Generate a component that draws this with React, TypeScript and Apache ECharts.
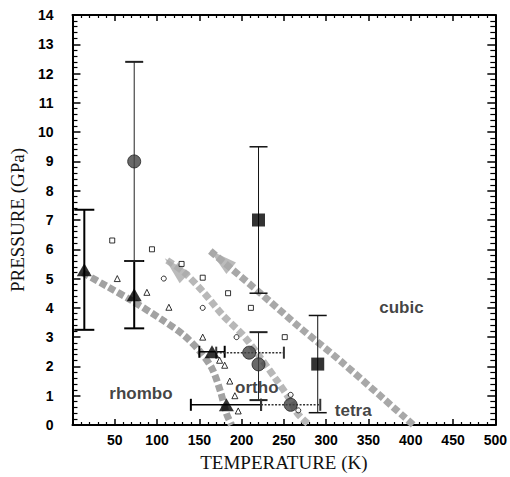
import React, { useEffect, useRef } from "react";
import * as echarts from "echarts";

// Axis ranges
const X_MIN = 0, X_MAX = 500, X_STEP = 50;
const Y_MIN = 0, Y_MAX = 14, Y_STEP = 1;
const xAxisName = "TEMPERATURE (K)";
const yAxisName = "PRESSURE (GPa)";

// Large markers
const bigTriangles = [[14, 5.3], [73, 4.45], [165, 2.5], [182, 0.69]];
const bigCircles = [[73, 9.0], [220, 2.07], [209, 2.47], [258, 0.69]];
const bigSquares = [[220, 7.0], [290, 2.08]];

// Error bars: vertical [x, low, high], horizontal [y, low, high]
const triVErr = [[14, 3.25, 7.35], [73, 3.3, 5.6]];
const triHErr = [[2.5, 150, 180], [0.69, 140, 223]];
const circVErr = [[73, 5.6, 12.4], [220, 0.85, 3.17]];
const circHErr = [[2.47, 170, 250], [0.69, 223, 293]];
const sqVErr = [[220, 4.5, 9.5], [290, 0.42, 3.74]];

// Small open markers
const openSquares = [[47, 6.3], [94, 6.0], [129, 5.5], [154, 5.03], [184, 4.5], [211, 4.0], [251, 3.0]];
const openCircles = [[108, 5.0], [154, 4.0], [194, 3.0], [258, 1.03], [267, 0.5]];
const openTriangles = [[53, 5.0], [88, 4.53], [114, 4.02], [154, 3.0], [174, 2.21], [180, 2.04], [186, 1.5], [192, 1.0], [196, 0.48]];

// Phase boundaries
const boundary1 = [[12, 5.2], [40, 4.75], [70, 4.25], [104, 3.63], [132, 3.06], [151, 2.5], [165, 1.93], [175, 1.14], [182, 0.4], [188, 0]];
const boundary2 = [[112, 5.62], [132, 5.21], [155, 4.53], [178, 3.74], [202, 3.06], [223, 2.27], [240, 1.59], [256, 0.92], [266, 0.4], [280, 0]];
const boundary3 = [[163, 5.94], [221, 4.53], [268, 3.35], [318, 2.16], [403, 0]];
// Arrow heads (centres)
const arrowHeads = [[121, 5.36], [175, 5.66]];
const arrowRotations = [46, 50];

// Phase labels
const phaseNames = ["rhombo", "ortho", "tetra", "cubic"];
const phasePos = [[81, 1.08], [218, 1.28], [332, 0.5], [389, 4.02]];

function vErrSeries(data: number[][], lineW: number, capW: number, capLineW: number, color: string) {
  return {
    type: "custom",
    data,
    z: 3,
    silent: true,
    renderItem: (params: any, api: any) => {
      const x = api.value(0), lo = api.value(1), hi = api.value(2);
      const a = api.coord([x, lo]);
      const b = api.coord([x, hi]);
      const st = { stroke: color, lineWidth: lineW };
      const cs = { stroke: color, lineWidth: capLineW };
      return {
        type: "group",
        children: [
          { type: "line", shape: { x1: a[0], y1: a[1], x2: b[0], y2: b[1] }, style: st },
          { type: "line", shape: { x1: a[0] - capW / 2, y1: a[1], x2: a[0] + capW / 2, y2: a[1] }, style: cs },
          { type: "line", shape: { x1: b[0] - capW / 2, y1: b[1], x2: b[0] + capW / 2, y2: b[1] }, style: cs },
        ],
      };
    },
  };
}

function hErrSeries(data: number[][], lineW: number, capH: number, capLineW: number, color: string, dash: any) {
  return {
    type: "custom",
    data,
    z: 3,
    silent: true,
    renderItem: (params: any, api: any) => {
      const y = api.value(0), lo = api.value(1), hi = api.value(2);
      const a = api.coord([lo, y]);
      const b = api.coord([hi, y]);
      const st: any = { stroke: color, lineWidth: lineW };
      if (dash) st.lineDash = dash;
      const cs = { stroke: color, lineWidth: capLineW };
      return {
        type: "group",
        children: [
          { type: "line", shape: { x1: a[0], y1: a[1], x2: b[0], y2: b[1] }, style: st },
          { type: "line", shape: { x1: a[0], y1: a[1] - capH / 2, x2: a[0], y2: a[1] + capH / 2 }, style: cs },
          { type: "line", shape: { x1: b[0], y1: b[1] - capH / 2, x2: b[0], y2: b[1] + capH / 2 }, style: cs },
        ],
      };
    },
  };
}

function bandSeries(data: number[][], color: string) {
  return {
    type: "line",
    data,
    smooth: 0.3,
    showSymbol: false,
    symbol: "none",
    z: 1,
    silent: true,
    lineStyle: { color, width: 7, type: [7, 3], cap: "butt" },
  };
}

const axisLineStyle = { color: "#000", width: 2 };

export default function App() {
  const ref = useRef<HTMLDivElement>(null);
  useEffect(() => {
    if (!ref.current) return;
    const chart = echarts.init(ref.current, undefined, { renderer: "svg" });
    const xCommon = {
      type: "value",
      min: X_MIN,
      max: X_MAX,
      interval: X_STEP,
      splitLine: { show: false },
      axisLine: { show: true, onZero: false, lineStyle: axisLineStyle },
      axisTick: { show: true, inside: true, length: 6, lineStyle: { color: "#000", width: 1.5 } },
      minorTick: { show: true, splitNumber: 5, length: 3, lineStyle: { color: "#000", width: 1.2 } },
    };
    const yCommon = {
      type: "value",
      min: Y_MIN,
      max: Y_MAX,
      interval: Y_STEP,
      splitLine: { show: false },
      axisLine: { show: true, onZero: false, lineStyle: axisLineStyle },
      axisTick: { show: true, inside: true, length: 8, lineStyle: { color: "#000", width: 1.5 } },
      minorTick: { show: true, splitNumber: 5, length: 5, lineStyle: { color: "#000", width: 1.2 } },
    };
    const tickFont = { fontFamily: "Liberation Sans, Arial, sans-serif", fontWeight: "bold", fontSize: 14, color: "#000" };
    const nameFont = { fontFamily: "Liberation Serif, Times New Roman, serif", fontSize: 19, color: "#111" };
    const option: any = {
      animation: false,
      backgroundColor: "#fff",
      grid: { left: 67, right: 14, top: 15, bottom: 50, containLabel: false },
      xAxis: [
        {
          ...xCommon,
          position: "bottom",
          name: xAxisName,
          nameLocation: "middle",
          nameGap: 28,
          nameTextStyle: nameFont,
          axisLabel: { ...tickFont, margin: 8, showMinLabel: false },
        },
        { ...xCommon, position: "top", axisLabel: { show: false } },
      ],
      yAxis: [
        {
          ...yCommon,
          position: "left",
          name: yAxisName,
          nameLocation: "middle",
          nameGap: 38,
          nameRotate: 90,
          nameTextStyle: nameFont,
          axisLabel: { ...tickFont, margin: 19 },
        },
        { ...yCommon, position: "right", axisLabel: { show: false } },
      ],
      series: [
        bandSeries(boundary1, "#a2a2a2"),
        bandSeries(boundary2, "#b8b8b8"),
        bandSeries(boundary3, "#a8a8a8"),
        {
          type: "scatter",
          data: arrowHeads.map((p, i) => ({ value: p, symbolRotate: arrowRotations[i] })),
          symbol: "triangle",
          symbolSize: [15, 28],
          itemStyle: { color: "#aaaaaa" },
          z: 2,
          silent: true,
        },
        vErrSeries(triVErr, 2, 20, 2, "#000"),
        vErrSeries(circVErr, 1, 18, 2, "#222"),
        vErrSeries(sqVErr, 1, 18, 1.5, "#111"),
        hErrSeries(triHErr, 1.5, 12, 2, "#000", null),
        hErrSeries(circHErr, 1.5, 12, 2, "#333", [2, 1.5]),
        {
          type: "scatter",
          data: openSquares,
          symbol: "rect",
          symbolSize: 5,
          itemStyle: { color: "#fff", borderColor: "#000", borderWidth: 1 },
          z: 4,
        },
        {
          type: "scatter",
          data: openCircles,
          symbol: "circle",
          symbolSize: 5,
          itemStyle: { color: "#fff", borderColor: "#000", borderWidth: 1 },
          z: 4,
        },
        {
          type: "scatter",
          data: openTriangles,
          symbol: "triangle",
          symbolSize: 6,
          itemStyle: { color: "#fff", borderColor: "#000", borderWidth: 1 },
          z: 4,
        },
        {
          type: "scatter",
          data: bigTriangles,
          symbol: "triangle",
          symbolSize: [15, 13],
          itemStyle: { color: "#000" },
          z: 5,
        },
        {
          type: "scatter",
          data: bigCircles,
          symbol: "circle",
          symbolSize: 13,
          itemStyle: { color: "#444", borderColor: "#222", borderWidth: 1 },
          z: 5,
        },
        {
          type: "scatter",
          data: bigSquares,
          symbol: "rect",
          symbolSize: 13,
          itemStyle: { color: "#000" },
          z: 5,
        },
        {
          type: "scatter",
          data: phasePos.map((p, i) => ({ value: p, name: phaseNames[i] })),
          symbolSize: 0,
          z: 6,
          silent: true,
          label: {
            show: true,
            position: "inside",
            formatter: (p: any) => p.name,
            fontFamily: "Liberation Sans, Arial, sans-serif",
            fontWeight: "bold",
            fontSize: 17,
            color: "#111",
          },
        },
      ],
    };
    chart.setOption(option);
    return () => chart.dispose();
  }, []);
  return <div ref={ref} style={{ position: "fixed", left: 0, top: 0, width: 510, height: 477 }} />;
}
